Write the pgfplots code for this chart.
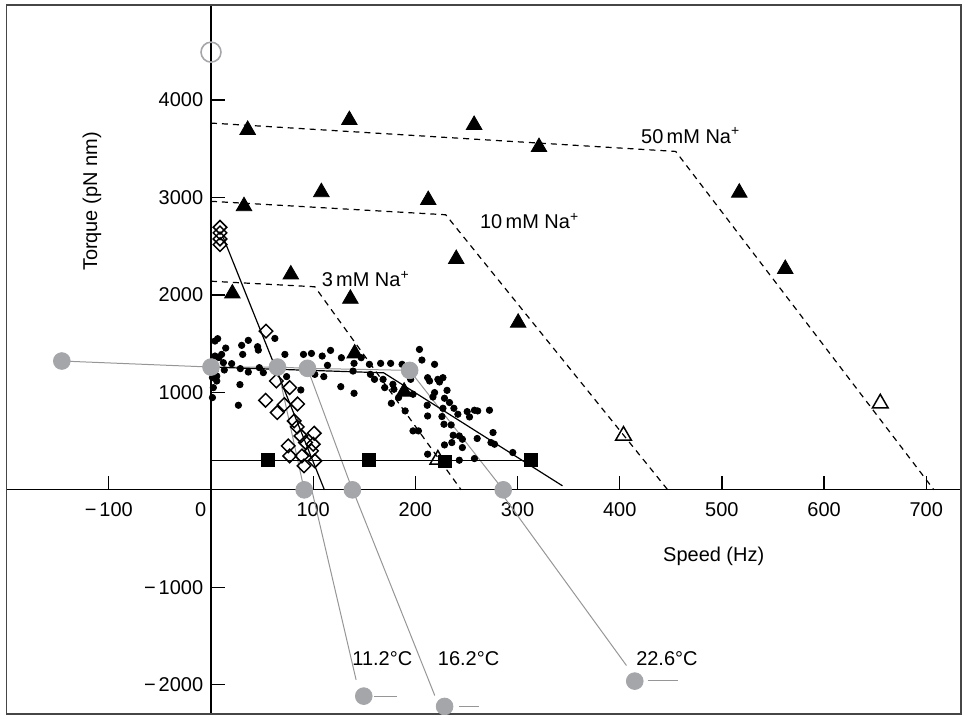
\documentclass[border=0pt]{standalone}
\usepackage{fontspec}
\setmainfont{Liberation Sans}
\usepackage{pgfplots}
\pgfplotsset{compat=1.18}
\definecolor{dotgray}{RGB}{165,166,170}
\definecolor{leadgray}{RGB}{150,150,152}
\definecolor{framegray}{RGB}{70,70,70}

\begin{document}
\begin{tikzpicture}
\begin{axis}[
  width=478pt, height=355pt, scale only axis,
  xmin=-200, xmax=734, ymin=-2298, ymax=4976,
  axis lines=middle,
  axis line style={-, line width=0.65pt, black},
  tick align=inside,
  major tick length=7pt,
  tick style={line width=0.65pt, black},
  hide obscured x ticks=false, hide obscured y ticks=false,
  xtick={-200,-100,...,700},
  xticklabels={,−\kern0.15em100,\hbox to 0pt{\hss0\kern2.4pt},100,200,300,400,500,600,700},
  ytick={-2000,-1000,0,1000,2000,3000,4000},
  yticklabels={−\kern0.15em2000,−\kern0.15em1000,,1000,2000,3000,4000},
  xticklabel style={yshift=-2.7pt},
  yticklabel style={xshift=-0.4pt},
  clip=false,
]

% frame around the whole figure
\draw[framegray, line width=0.8pt] (rel axis cs:0,0) rectangle (rel axis cs:1,1);
\coordinate (fsw) at (rel axis cs:0,0);
\coordinate (fne) at (rel axis cs:1,1);

% grey temperature traces (behind everything else)
\addplot[leadgray, line width=0.5pt] coordinates {(-146,1322) (0,1260) (65,1260) (94.4,1247) (194.4,1226)};
\addplot[leadgray, line width=0.5pt] coordinates {(65,1260) (91.2,0)};
\addplot[leadgray, line width=0.5pt] coordinates {(94.4,1247) (138.4,0)};
\addplot[leadgray, line width=0.5pt] coordinates {(194.4,1226) (286,0)};
\addplot[leadgray, line width=0.5pt] coordinates {(98.6,0) (142,-1950)};
\addplot[leadgray, line width=0.5pt] coordinates {(138.7,0) (219,-2111)};
\addplot[leadgray, line width=0.5pt] coordinates {(281.7,0) (406.6,-1803)};
\addplot[leadgray, line width=0.5pt] coordinates {(160,-2117) (182.5,-2117)};
\addplot[leadgray, line width=0.5pt] coordinates {(243,-2226) (262,-2226)};
\addplot[leadgray, line width=0.5pt] coordinates {(427.4,-1960) (456.7,-1960)};

% torque-speed curves at three Na+ concentrations
\addplot[black, line width=0.6pt, dash pattern=on 3pt off 2.5pt] coordinates {(0,3764) (454.8,3473) (707.5,0)};
\addplot[black, line width=0.6pt, dash pattern=on 3pt off 2.5pt] coordinates {(0,2961) (229.7,2823) (447,0)};
\addplot[black, line width=0.6pt, dash pattern=on 3pt off 2.5pt] coordinates {(0,2141) (101.6,2084) (244.8,0)};

% single-motor data
\addplot[only marks, mark=*, mark size=1.6pt, black] table {
x y
6.5 1551
3.9 1527
30 1483
36.5 1534
45.6 1469
46.3 1434
62.5 1554
14.4 1455
10.4 1390
7.8 1357
3.9 1373
31 1390
20.2 1295
12.1 1305
72.3 1390
90.5 1390
98.3 1400
36.5 1209
51.2 1203
74 1162
3.9 1219
5.6 1168
1.4 1152
28.7 1244
5.6 1117
28.3 1080
26.8 868
1.4 947
87.9 1025
47.3 1254
13 1230
2.3 1049
117 1431
108.8 1373
127.6 1356
140 1298
147 1356
155 1288
166 1298
175.8 1298
187 1288
114 1278
139 1219
156 1185
160 1134
168.4 1134
170 1049
179 1032
178 1083
204 1441
206.4 1332
212 1151
222 1134
176.5 888
183.6 947
190 810
211.6 868
197.7 605
203 605
212 758
212 366
127 1059
140 991
110.4 1162
101.6 1185
195.4 1134
197.7 981
218.8 1288
213.9 1117
227 1151
223.6 1107
231 1021
218.8 998
217.2 953
228.5 940
233.4 896
237.7 837
227 837
250.7 803
257.8 817
261 810
272.5 817
241.6 776
253 748
226 752
228 673
235 666
237 560
246 519
235.7 485
260.5 527
276 588
274 485
277.5 468
228.5 461
246 434
243 304
257.8 321
295.3 383
243 553
};

% fitted lines
\addplot[black, line width=0.6pt] coordinates {(12,2590) (111,0)};
\addplot[black, line width=0.6pt] coordinates {(0,1260) (169,1201) (344,41)};
\addplot[black, line width=0.6pt] coordinates {(0,305) (313,305)};

% open diamonds
\addplot[only marks, mark=square, mark size=2.4pt, mark options={rotate=45, line width=0.75pt, fill=white, draw=black}] table {
x y
8.8 2695
8.8 2637
8.8 2575
8.8 2517
53.8 1629
64 1117
77 1049
53.4 919
71.7 875
84.7 881
64.8 793
81.4 707
84.4 646
88 553
101 581
75.6 451
92.5 486
100 468
77 348
89 348
98.3 400
101.6 297
91 246
};

% filled squares
\addplot[only marks, mark=square*, mark size=3.2pt, black] coordinates {(55.4,305) (154.4,305) (228.6,291) (313,305)};

% filled triangles
\addplot[only marks, mark=triangle*, mark size=4.5pt, black] coordinates {
(35.9,3694) (135.4,3795) (257.5,3745) (321,3518) (517,3050) (562,2267)
(32.3,2911) (108,3055) (212.6,2974) (240,2369) (300.6,1715)
(20.9,2015) (78.1,2210) (136.4,1961) (140.6,1400) (189,1008)};

% open triangles
\addplot[only marks, mark=triangle, mark size=4.5pt, mark options={line width=0.75pt, fill=white, draw=black}] coordinates {(222,311) (403.7,557) (655,888)};

% grey circles
\addplot[only marks, mark=*, mark size=4.2pt, mark options={fill=dotgray, draw=dotgray}] coordinates {
(-146,1322) (0,1260) (65,1260) (94.4,1247) (194.4,1226)
(91.2,0) (138.4,0) (286,0)
(149.5,-2117) (228.6,-2223) (414.7,-1963)};
\addplot[only marks, mark=o, mark size=5pt, mark options={fill=white, draw=dotgray, line width=0.8pt}] coordinates {(0,4492)};

% labels
\node[anchor=base west, inner sep=0] at (axis cs:420.6,3559) {50\,mM Na\textsuperscript{+}};
\node[anchor=base west, inner sep=0] at (axis cs:263,2680) {10\,mM Na\textsuperscript{+}};
\node[anchor=base west, inner sep=0] at (axis cs:108,2084) {3\,mM Na\textsuperscript{+}};
\node[anchor=base west, inner sep=0] at (axis cs:138,-1803) {11.2°C};
\node[anchor=base west, inner sep=0] at (axis cs:221.7,-1803) {16.2°C};
\node[anchor=base west, inner sep=0] at (axis cs:415.8,-1803) {22.6°C};
\node at (axis cs:492,-679) {Speed (Hz)};
\node[rotate=90] at (axis cs:-116.5,2958) {Torque (pN nm)};
\end{axis}
\path ([shift={(-2.5pt,-0.5pt)}]fsw) rectangle ([shift={(0.5pt,2.5pt)}]fne);
\end{tikzpicture}
\end{document}
